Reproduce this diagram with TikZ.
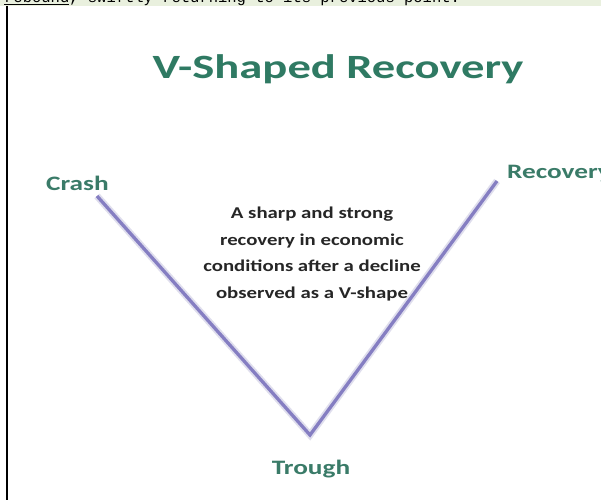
\documentclass[tikz,border=0pt]{standalone}
\usepackage{fontspec}
\setmainfont{Carlito}
\newfontfamily\titlefnt[FakeStretch=1.37]{Carlito}
\newfontfamily\lblfnt[FakeStretch=1.33]{Carlito}
\newfontfamily\bodyfnt[FakeStretch=1.26]{Carlito}
\newfontfamily\monofnt{Liberation Mono}
\definecolor{titlegreen}{HTML}{2F7A63}
\definecolor{labelgreen}{HTML}{3A7B68}
\definecolor{vline}{HTML}{857EC2}
\definecolor{vshadow}{HTML}{B9B6D8}
\definecolor{stripgreen}{HTML}{E9F0DE}
\begin{document}
\begin{tikzpicture}[x=1pt,y=-1pt,
  lbl/.style={font=\lblfnt\bfseries\fontsize{20.5}{23}\selectfont, text=labelgreen, inner sep=0pt},
  vstroke/.style={draw=vline, line width=3.3pt, line join=miter},
  vglow/.style={draw=vshadow, line width=7pt, opacity=0.45, line join=miter}]
\useasboundingbox (0,0) rectangle (601,500);
\fill[white] (0,0) rectangle (601,500);
% top strip
\fill[stripgreen] (0,0) rectangle (601,6.5);
\begin{scope}
\clip (0,0) rectangle (601,6.5);
\node[anchor=base west, inner sep=0pt, font=\monofnt\fontsize{15.5}{18}\selectfont, text=black] (strip) at (4,3)
  {\underline{rebound}, swiftly returning to its previous point.};
\end{scope}
% left border
\draw[black, line width=1.6pt] (7,6.5) -- (7,500);
% title
\node[font=\titlefnt\bfseries\fontsize{34}{38}\selectfont, text=titlegreen, inner sep=0pt, anchor=base] (title) at (338,79) {V-Shaped Recovery};
% V shape
\coordinate (crashpt) at (97,196);
\coordinate (troughpt) at (310,435);
\coordinate (recpt) at (497,181);
\draw[vglow] (crashpt) -- (troughpt) -- (recpt);
\draw[vstroke] (crashpt) -- (troughpt) -- (recpt);
% labels
\node[lbl, anchor=base west] (crash) at (46,190) {Crash};
\node[lbl, anchor=base west] (recovery) at (507,178) {Recovery};
\node[lbl, anchor=base] (trough) at (311,474) {Trough};
% description
\node[font=\bodyfnt\bfseries\fontsize{16.5}{26.5}\selectfont, text=black!85, align=center, inner sep=0pt] (desc) at (312,254)
  {A sharp and strong\\recovery in economic\\conditions after a decline\\observed as a V-shape};
\end{tikzpicture}
\end{document}
